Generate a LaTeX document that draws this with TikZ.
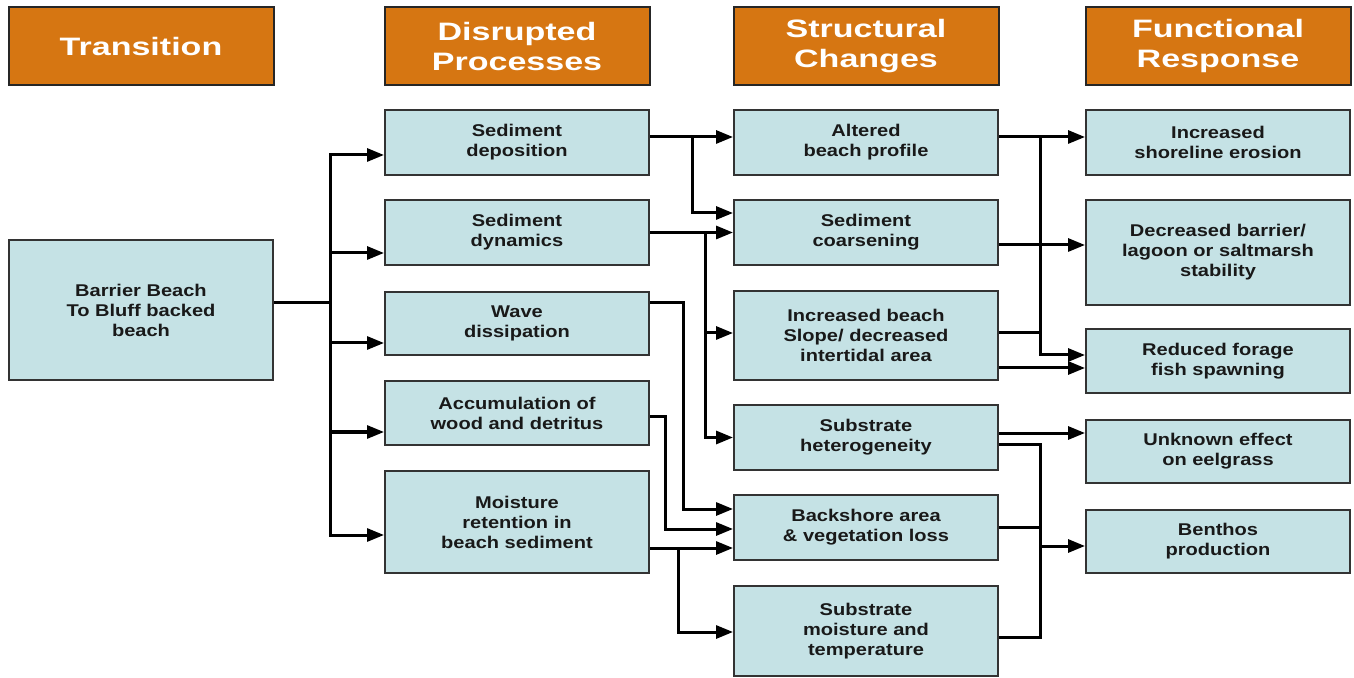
\documentclass[tikz,border=0pt]{standalone}
\usepackage{fontspec}
\setmainfont{Liberation Sans}
\newfontfamily\hdrfont[FakeStretch=1.35]{Liberation Sans}
\newfontfamily\boxfont[FakeStretch=1.18]{Liberation Sans}
\usetikzlibrary{calc,arrows.meta}

\definecolor{hdrorange}{RGB}{214,118,18}
\definecolor{boxblue}{RGB}{197,226,229}

\begin{document}
\begin{tikzpicture}[x=0.5pt,y=-0.5pt]
    \tikzstyle{hdr}=[draw=black!85, line width=1pt, fill=hdrorange, minimum width=132.5pt, minimum height=39pt, inner sep=0pt, align=center, text=white, font=\hdrfont\bfseries\fontsize{12.6}{15}\selectfont]
    \tikzstyle{bx}=[draw=black!80, line width=1pt, fill=boxblue, minimum width=132pt, inner sep=0pt, align=center, text=black!90, font=\boxfont\bfseries\fontsize{8.5}{10}\selectfont]
    \tikzstyle{wire}=[line width=1.5pt]
    \tikzstyle{arr}=[wire, -{Triangle[length=8.5pt,width=6.5pt]}]
    \useasboundingbox (0,0) rectangle (1354,678);
    % headers
    \node[hdr] (h1) at (141,46) {Transition};
    \node[hdr] (h2) at (517,46) {Disrupted\\Processes};
    \node[hdr] (h3) at (866,46) {Structural\\Changes};
    \node[hdr] (h4) at (1218,46) {Functional\\Response};
    % transition
    \node[bx, minimum height=70pt] (barrier) at (141,310) {Barrier Beach\\To Bluff backed\\beach};
    % disrupted processes
    \node[bx, minimum height=32.5pt] (dep) at (517,142.5) {Sediment\\deposition};
    \node[bx, minimum height=32.5pt] (dyn) at (517,232.5) {Sediment\\dynamics};
    \node[bx, minimum height=31.5pt] (wave) at (517,323.5) {Wave\\dissipation};
    \node[bx, minimum height=32pt] (accum) at (517,413) {Accumulation of\\wood and detritus};
    \node[bx, minimum height=51pt] (moist) at (517,522) {Moisture\\retention in\\beach sediment};
    % structural changes
    \node[bx, minimum height=32.5pt] (profile) at (866,142.5) {Altered\\beach profile};
    \node[bx, minimum height=32.5pt] (coarse) at (866,232.5) {Sediment\\coarsening};
    \node[bx, minimum height=44.5pt] (slope) at (866,335.5) {Increased beach\\Slope/ decreased\\intertidal area};
    \node[bx, minimum height=32.5pt] (hetero) at (866,437.5) {Substrate\\heterogeneity};
    \node[bx, minimum height=32.5pt] (backsh) at (866,527.5) {Backshore area\\\& vegetation loss};
    \node[bx, minimum height=45pt] (submoist) at (866,631) {Substrate\\moisture and\\temperature};
    % functional response
    \node[bx, minimum height=32.5pt] (erosion) at (1218,142.5) {Increased\\shoreline erosion};
    \node[bx, minimum height=52.5pt] (stab) at (1218,252.5) {Decreased barrier/\\lagoon or saltmarsh\\stability};
    \node[bx, minimum height=32pt] (forage) at (1218,361) {Reduced forage\\fish spawning};
    \node[bx, minimum height=31.5pt] (eelgrass) at (1218,451.5) {Unknown effect\\on eelgrass};
    \node[bx, minimum height=31.5pt] (benthos) at (1218,541.5) {Benthos\\production};

    % transition -> processes
    \draw[wire] ($(barrier.east)+(0,-7)$) -- ++(56.5,0) coordinate (j1);
    \draw[arr] (j1) |- ($(dep.west)+(0,12.5)$);
    \draw[arr] (j1) |- ($(dyn.west)+(0,20.5)$);
    \draw[arr] (j1) |- ($(wave.west)+(0,19.5)$);
    \draw[arr] (j1) |- ($(accum.west)+(0,19)$);
    \draw[arr] (j1) |- ($(moist.west)+(0,13)$);

    % processes -> structure
    \draw[arr] ($(dep.east)+(0,-5.5)$) -- ($(profile.west)+(0,-5.5)$);
    \draw[arr] ($(dep.east)+(42,-5.5)$) |- ($(coarse.west)+(0,-19.5)$);
    \draw[arr] (dyn.east) -- (coarse.west);
    \draw[arr] ($(dyn.east)+(55,0)$) |- ($(slope.west)+(0,-2.5)$);
    \draw[arr] ($(dyn.east)+(55,0)$) |- (hetero.west);
    \draw[arr] ($(wave.east)+(0,-20.5)$) -- ++(33.5,0) |- ($(backsh.west)+(0,-18.5)$);
    \draw[arr] ($(accum.east)+(0,4)$) -- ++(15.5,0) |- ($(backsh.west)+(0,1.5)$);
    \draw[arr] ($(moist.east)+(0,26)$) -- ($(backsh.west)+(0,20.5)$);
    \draw[arr] ($(moist.east)+(28.5,26)$) |- ($(submoist.west)+(0,1)$);

    % structure -> response
    \draw[arr] ($(profile.east)+(0,-5.5)$) -- ($(erosion.west)+(0,-5.5)$);
    \draw[arr] ($(profile.east)+(41.5,-5.5)$) |- ($(forage.west)+(0,-6)$);
    \draw[arr] ($(coarse.east)+(0,12.5)$) -- ($(stab.west)+(0,-7.5)$);
    \draw[wire] ($(slope.east)+(0,-2.5)$) -- ++(41.5,0);
    \draw[arr] ($(slope.east)+(0,32.5)$) -- ($(forage.west)+(0,7)$);
    \draw[arr] ($(hetero.east)+(0,-4.5)$) -- ($(eelgrass.west)+(0,-18.5)$);
    \draw[wire] ($(hetero.east)+(0,6.5)$) -- ++(41.5,0) |- ($(submoist.east)+(0,6)$);
    \draw[wire] (backsh.east) -- ++(41.5,0);
    \draw[arr] ($(backsh.east)+(41.5,18.5)$) -- ($(benthos.west)+(0,4.5)$);
\end{tikzpicture}
\end{document}
